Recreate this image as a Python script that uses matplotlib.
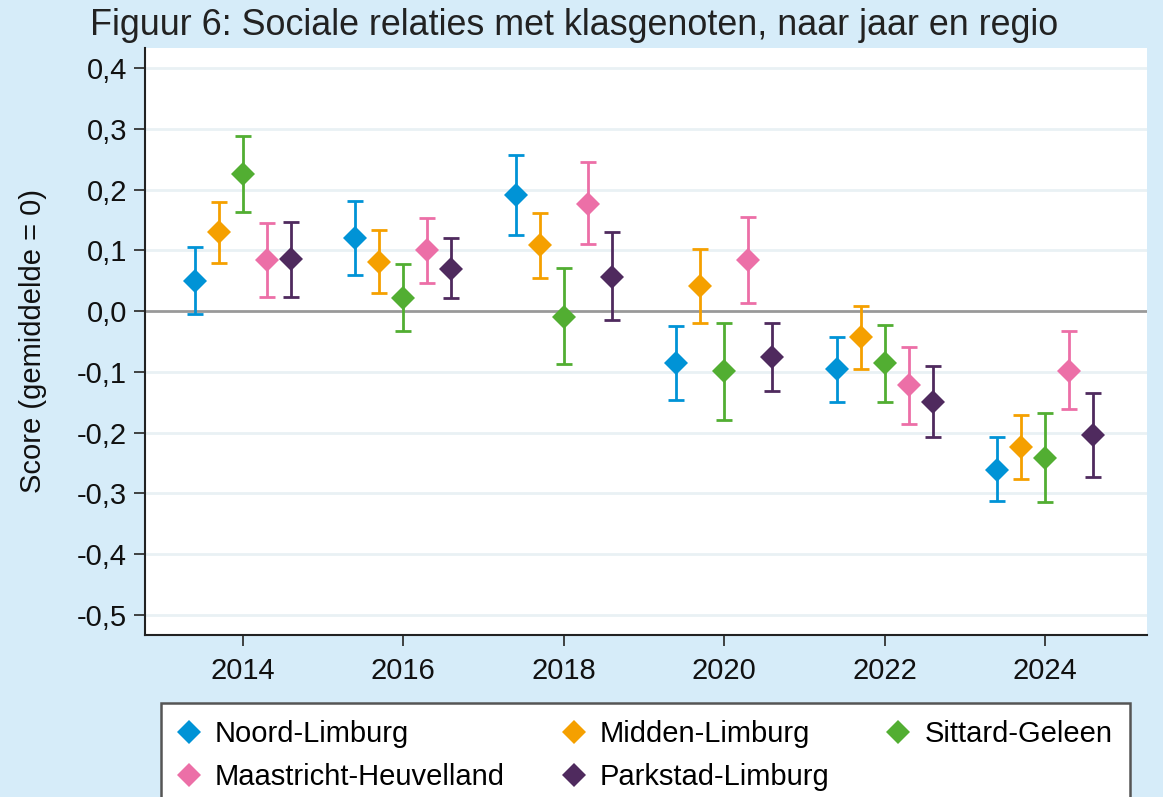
import numpy as np
import matplotlib.pyplot as plt
from matplotlib.ticker import FixedLocator

plt.rcParams['font.family'] = ['Liberation Sans', 'DejaVu Sans']

years = [2014, 2016, 2018, 2020, 2022, 2024]
regions = ['Noord-Limburg', 'Midden-Limburg', 'Sittard-Geleen',
           'Maastricht-Heuvelland', 'Parkstad-Limburg']
colors = ['#0093d6', '#f5a000', '#52ae32', '#ec6fa7', '#4f2a5e']
offsets = [-0.6, -0.3, 0.0, 0.3, 0.6]

# score, lower and upper bound of the interval, per region
noord = [0.049, 0.121, 0.191, -0.085, -0.095, -0.261]
noord_lo = [-0.005, 0.060, 0.125, -0.146, -0.149, -0.313]
noord_hi = [0.105, 0.181, 0.257, -0.024, -0.042, -0.207]

midden = [0.130, 0.081, 0.108, 0.041, -0.043, -0.224]
midden_lo = [0.079, 0.030, 0.054, -0.019, -0.096, -0.277]
midden_hi = [0.179, 0.133, 0.162, 0.102, 0.009, -0.171]

sittard = [0.225, 0.022, -0.009, -0.099, -0.086, -0.241]
sittard_lo = [0.163, -0.032, -0.087, -0.180, -0.150, -0.314]
sittard_hi = [0.288, 0.077, 0.071, -0.019, -0.023, -0.168]

maastricht = [0.084, 0.100, 0.177, 0.084, -0.122, -0.098]
maastricht_lo = [0.023, 0.047, 0.110, 0.013, -0.186, -0.161]
maastricht_hi = [0.145, 0.154, 0.245, 0.155, -0.059, -0.033]

parkstad = [0.086, 0.070, 0.056, -0.076, -0.149, -0.204]
parkstad_lo = [0.023, 0.021, -0.015, -0.132, -0.207, -0.273]
parkstad_hi = [0.147, 0.120, 0.130, -0.020, -0.091, -0.135]

ytick_vals = [0.4, 0.3, 0.2, 0.1, 0.0, -0.1, -0.2, -0.3, -0.4, -0.5]
ytick_labels = ['0,4', '0,3', '0,2', '0,1', '0,0', '-0,1', '-0,2', '-0,3', '-0,4', '-0,5']

series = [(noord, noord_lo, noord_hi), (midden, midden_lo, midden_hi),
          (sittard, sittard_lo, sittard_hi), (maastricht, maastricht_lo, maastricht_hi),
          (parkstad, parkstad_lo, parkstad_hi)]

bg = '#d6ecf9'
fig = plt.figure(figsize=(11.63, 7.97), dpi=100, facecolor=bg)
ax = fig.add_axes([0.1247, 0.2033, 0.8615, 0.7365])
ax.set_facecolor('white')

for v in ytick_vals:
    if v != 0:
        ax.axhline(v, color='#e9f1f4', lw=2, zorder=0)
ax.axhline(0, color='#999999', lw=2, zorder=1)

handles = []
for (vals, lo, hi), name, c, off in zip(series, regions, colors, offsets):
    x = np.array(years) + off
    vals = np.array(vals)
    err = [vals - np.array(lo), np.array(hi) - vals]
    ax.errorbar(x, vals, yerr=err, fmt='none', ecolor=c, elinewidth=2,
                capsize=5.5, capthick=2, zorder=2)
    h, = ax.plot(x, vals, 'D', color=c, ms=12.5, mew=0,
                 ls='none', label=name, zorder=3)
    handles.append(h)

ax.set_xlim(2012.78, 2025.27)
ax.set_ylim(-0.533, 0.433)
ax.set_xticks(years)
ax.set_xticklabels([str(y) for y in years])
ax.yaxis.set_major_locator(FixedLocator(ytick_vals))
ax.set_yticklabels(ytick_labels)

for s in ['top', 'right']:
    ax.spines[s].set_visible(False)
for s in ['left', 'bottom']:
    ax.spines[s].set_color('#222222')
    ax.spines[s].set_linewidth(1.5)
ax.tick_params(axis='both', labelsize=21, length=8, width=1.3, color='#333333',
               labelcolor='#111111')
ax.tick_params(axis='x', pad=8)
ax.tick_params(axis='y', pad=5)

ax.set_ylabel('Score (gemiddelde = 0)', fontsize=21, color='#111111')
ax.yaxis.set_label_coords(-0.098, 0.5)

fig.text(90 / 1163, 1 - 35 / 797,
         'Figuur 6: Sociale relaties met klasgenoten, naar jaar en regio',
         fontsize=25.8, color='#222222', ha='left', va='baseline')

order = [0, 3, 1, 4, 2]
leg = fig.legend([handles[i] for i in order], [regions[i] for i in order],
                 ncol=3, loc='upper left', bbox_to_anchor=(161 / 1163, 1 - 703 / 797),
                 borderaxespad=0, fontsize=21, frameon=True, fancybox=False,
                 facecolor='white', framealpha=1, edgecolor='#555555',
                 handlelength=0.7, handletextpad=0.55, columnspacing=2.0,
                 labelspacing=0.5, borderpad=0.6, markerscale=0.95)
leg.get_frame().set_linewidth(1.8)

fig.savefig('out.png', dpi=100, facecolor=bg)
